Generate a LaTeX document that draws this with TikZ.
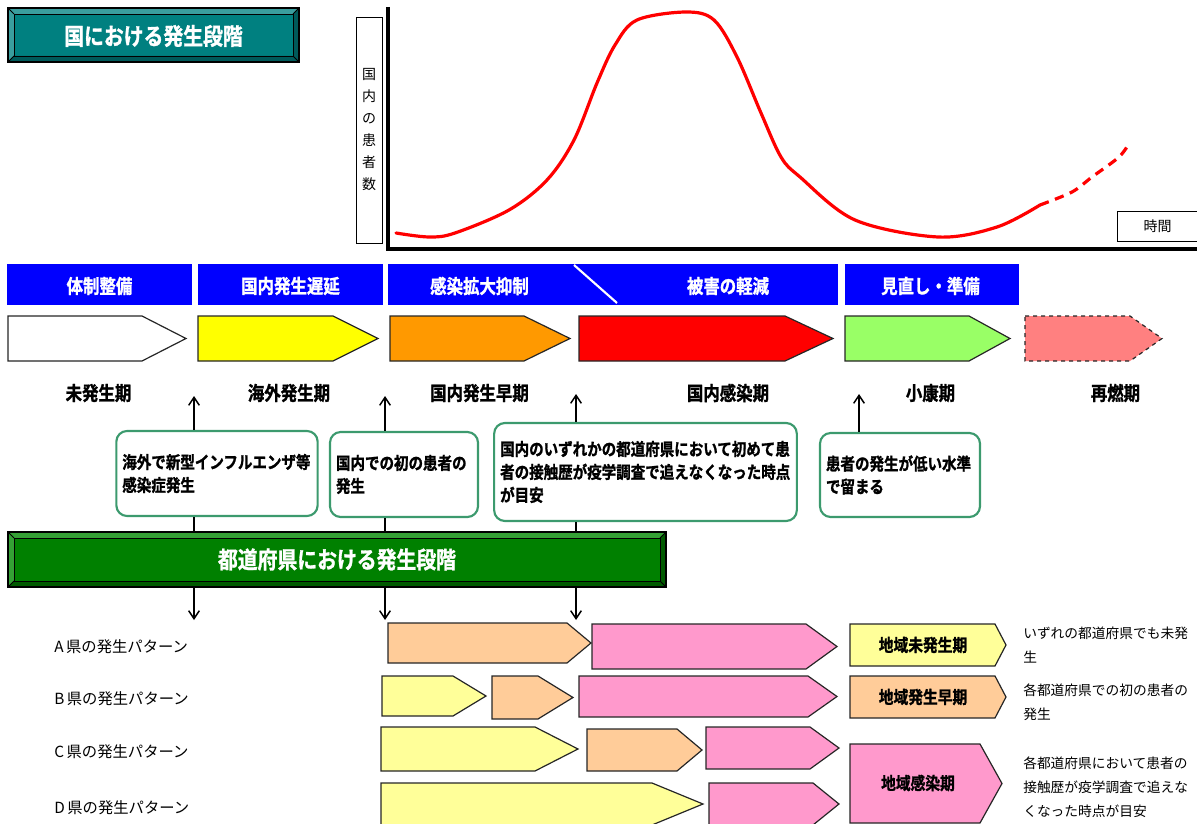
\documentclass[tikz,border=0pt]{standalone}
\usepackage{fontspec}
\setmainfont{Noto Sans CJK JP}
\newfontfamily\jpb{Noto Sans CJK JP Bold}[FakeStretch=0.85, FakeBold=1.2]
\usetikzlibrary{arrows.meta}

\definecolor{tealbar}{HTML}{008080}
\definecolor{teallight}{HTML}{3A9E9E}
\definecolor{tealdark}{HTML}{005A5A}
\definecolor{prefgreen}{HTML}{008000}
\definecolor{preflight}{HTML}{35A035}
\definecolor{prefdark}{HTML}{005A00}
\definecolor{phaseblue}{HTML}{0000FF}
\definecolor{ylw}{HTML}{FFFF00}
\definecolor{org}{HTML}{FF9900}
\definecolor{lgreen}{HTML}{99FF66}
\definecolor{salmon}{HTML}{FF8080}
\definecolor{paleylw}{HTML}{FFFF99}
\definecolor{paleorg}{HTML}{FFCC99}
\definecolor{palepink}{HTML}{FF99CC}
\definecolor{callgreen}{HTML}{3C9A6E}

% pentagon arrow: style, left, shoulder, tip, top, bottom
\newcommand{\pent}[6]{\draw[pentline,#1] (#2,#5) -- (#3,#5) -- (#4,{(#5+#6)/2}) -- (#3,#6) -- (#2,#6) -- cycle;}
% bevelled bar: fill, light, dark, x1, y1, x2, y2
\newcommand{\bevelbox}[7]{%
\fill[#1] (#4,#5) rectangle (#6,#7);
\fill[#2] (#4,#5) -- (#6,#5) -- (#6-6,#5+6) -- (#4+6,#5+6) -- cycle;
\fill[#2] (#4,#5) -- (#4+6,#5+6) -- (#4+6,#7-6) -- (#4,#7) -- cycle;
\fill[#3] (#4,#7) -- (#4+6,#7-6) -- (#6-6,#7-6) -- (#6,#7) -- cycle;
\fill[#3] (#6,#5) -- (#6,#7) -- (#6-6,#7-6) -- (#6-6,#5+6) -- cycle;
\draw[line width=0.9pt] (#4,#5) rectangle (#6,#7);
\draw[line width=0.6pt] (#4+6,#5+6) rectangle (#6-6,#7-6);
\draw[line width=0.6pt] (#4,#5) -- (#4+6,#5+6) (#6,#5) -- (#6-6,#5+6) (#4,#7) -- (#4+6,#7-6) (#6,#7) -- (#6-6,#7-6);}

\tikzset{
  pentline/.style={draw=black!85, line width=0.9pt, line join=miter},
  curve/.style={red, line width=2.4pt, line cap=round},
  axisline/.style={line width=2.4pt},
  bartext/.style={text=white, inner sep=0pt, font=\jpb\fontsize{14.5}{17}\selectfont},
  headtext/.style={text=white, inner sep=0pt, font=\jpb\fontsize{17.5}{20}\selectfont},
  phaselabel/.style={inner sep=0pt, font=\jpb\fontsize{14.5}{17}\selectfont},
  callout/.style={draw=callgreen, line width=1.6pt, rounded corners=8pt, fill=white,
    align=left, inner xsep=4.5pt, font=\jpb\fontsize{12.8}{17.25}\selectfont},
  pointer/.style={line width=1.1pt, -{Straight Barb[length=6pt,width=8pt]}},
  stem/.style={line width=1.1pt},
  rowlabel/.style={anchor=west, inner sep=0pt, font=\fontsize{11.5}{14}\selectfont},
  legendtext/.style={inner sep=0pt, font=\jpb\fontsize{13}{16}\selectfont},
  note/.style={anchor=west, align=left, inner sep=0pt, font=\fontsize{10.3}{18}\selectfont},
  plainbox/.style={draw, line width=0.6pt, inner sep=0pt, font=\fontsize{10.5}{16.5}\selectfont}
}

\begin{document}
\begin{tikzpicture}[x=0.75pt,y=-0.75pt]
\useasboundingbox (0,0) rectangle (1197,824);

\bevelbox{tealbar}{teallight}{tealdark}{8}{8}{299}{62}
\node[headtext] (natl) at (153.5,36) {国における発生段階};

\node[plainbox, minimum width=19.5pt, minimum height=169.5pt, align=center] (ylab) at (369,130) {国\\内\\の\\患\\者\\数};
\coordinate (ytop) at (388,7);
\coordinate (origin) at (388,249);
\coordinate (xend) at (1197,249);
\draw[axisline] (ytop) -- (origin) -- (xend);
\node[plainbox, minimum width=60pt, minimum height=22.5pt] (tbox) at (1157.5,226) {時間};

\draw[curve] plot[smooth, tension=0.55] coordinates {(396,233) (429,237) (455,233) (509,210) (547,180) (574,140) (597,83) (615,45) (637,20) (686,12) (714,20) (737,57) (761,113) (781,157) (800,177) (855,220) (938,237) (997,227) (1040,205)};
\draw[curve, line cap=butt, dash pattern=on 7pt off 5pt] plot[smooth] coordinates {(1040,205) (1072,192) (1092,177) (1119,157) (1130,142)};

\fill[phaseblue] (7,264) rectangle (192,305);
\fill[phaseblue] (198,264) rectangle (383,305);
\fill[phaseblue] (388,264) rectangle (838,305);
\fill[phaseblue] (845,264) rectangle (1019,305);
\draw[white, line width=1.6pt] (574,265) -- (617,303);
\node[bartext] (prep) at (99.5,286) {体制整備};
\node[bartext] (delay) at (290.5,286) {国内発生遅延};
\node[bartext] (contain) at (479.5,286) {感染拡大抑制};
\node[bartext] (reduce) at (728,286) {被害の軽減};
\node[bartext] (review) at (930.5,286) {見直し・準備};

\pent{fill=white}{8}{142}{186}{316}{361}
\pent{fill=ylw}{198}{333}{378}{316}{361}
\pent{fill=org}{390}{524}{570}{316}{361}
\pent{fill=red}{579}{785}{833}{316}{361}
\pent{fill=lgreen}{845}{969}{1010}{316}{361}
\pent{fill=salmon, dashed}{1025}{1130}{1162}{316}{361}

\node[phaselabel] (pre) at (98.5,393) {未発生期};
\node[phaselabel] (abroad) at (289,393) {海外発生期};
\node[phaselabel] (early) at (479.5,393) {国内発生早期};
\node[phaselabel] (spread) at (728,393) {国内感染期};
\node[phaselabel] (calm) at (930.5,393) {小康期};
\node[phaselabel] (again) at (1115.5,393) {再燃期};

\node[callout, text width=142pt, minimum height=63.75pt] (cb1) at (217,473.5) {海外で新型インフルエンザ等\\感染症発生};
\node[callout, text width=102pt, minimum height=63.75pt] (cb2) at (404,474.5) {国内での初の患者の\\発生};
\node[callout, text width=218pt, minimum height=73.5pt] (cb3) at (645.5,472) {国内のいずれかの都道府県において初めて患\\者の接触歴が疫学調査で追えなくなった時点\\が目安};
\node[callout, text width=111pt, minimum height=63pt] (cb4) at (900,475) {患者の発生が低い水準\\で留まる};

\bevelbox{prefgreen}{preflight}{prefdark}{8}{532}{666}{587}
\node[headtext, minimum width=493.5pt, minimum height=41.25pt] (pref) at (337,559.5) {都道府県における発生段階};

\coordinate (p1) at (194,396);
\coordinate (p2) at (385,396);
\coordinate (p3) at (576,394);
\coordinate (p4) at (859,394);
\coordinate (d1) at (194,620);
\coordinate (d2) at (385,620);
\coordinate (d3) at (576,620);

\draw[pointer] (p1 |- cb1.north) -- (p1);
\draw[pointer] (p2 |- cb2.north) -- (p2);
\draw[pointer] (p3 |- cb3.north) -- (p3);
\draw[pointer] (p4 |- cb4.north) -- (p4);
\draw[stem] (p1 |- cb1.south) -- (p1 |- pref.north);
\draw[stem] (p2 |- cb2.south) -- (p2 |- pref.north);
\draw[stem] (p3 |- cb3.south) -- (p3 |- pref.north);
\draw[pointer] (p1 |- pref.south) -- (d1);
\draw[pointer] (p2 |- pref.south) -- (d2);
\draw[pointer] (p3 |- pref.south) -- (d3);

\node[rowlabel] (rowa) at (54,647) {A\,県の発生パターン};
\node[rowlabel] (rowb) at (54,699) {B\,県の発生パターン};
\node[rowlabel] (rowc) at (54,752) {C\,県の発生パターン};
\node[rowlabel] (rowd) at (54,808) {D\,県の発生パターン};

\pent{fill=paleorg}{388}{567}{591}{623}{663}
\pent{fill=palepink}{592}{806}{837}{624}{669}
\pent{fill=paleylw}{382}{453}{486}{676}{716}
\pent{fill=paleorg}{492}{538}{573}{676}{719}
\pent{fill=palepink}{579}{808}{837}{676}{717}
\pent{fill=paleylw}{381}{535}{578}{727}{771}
\pent{fill=paleorg}{587}{677}{702}{729}{771}
\pent{fill=palepink}{706}{810}{839}{727}{769}
\pent{fill=paleylw}{381}{652}{703}{783}{825}
\pent{fill=palepink}{709}{813}{839}{783}{825}

\pent{fill=paleylw}{850}{995}{1006}{624}{666}
\pent{fill=paleorg}{850}{995}{1006}{676}{718}
\pent{fill=palepink}{850}{980}{1002}{744}{823}
\node[legendtext] (lnone) at (923,645) {地域未発生期};
\node[legendtext] (learly) at (923,697) {地域発生早期};
\node[legendtext] (lspread) at (918,783) {地域感染期};

\node[note] (nnone) at (1023,645.5) {いずれの都道府県でも未発\\生};
\node[note] (nearly) at (1023,702) {各都道府県での初の患者の\\発生};
\node[note] (nspread) at (1023,787) {各都道府県において患者の\\接触歴が疫学調査で追えな\\くなった時点が目安};
\end{tikzpicture}
\end{document}
